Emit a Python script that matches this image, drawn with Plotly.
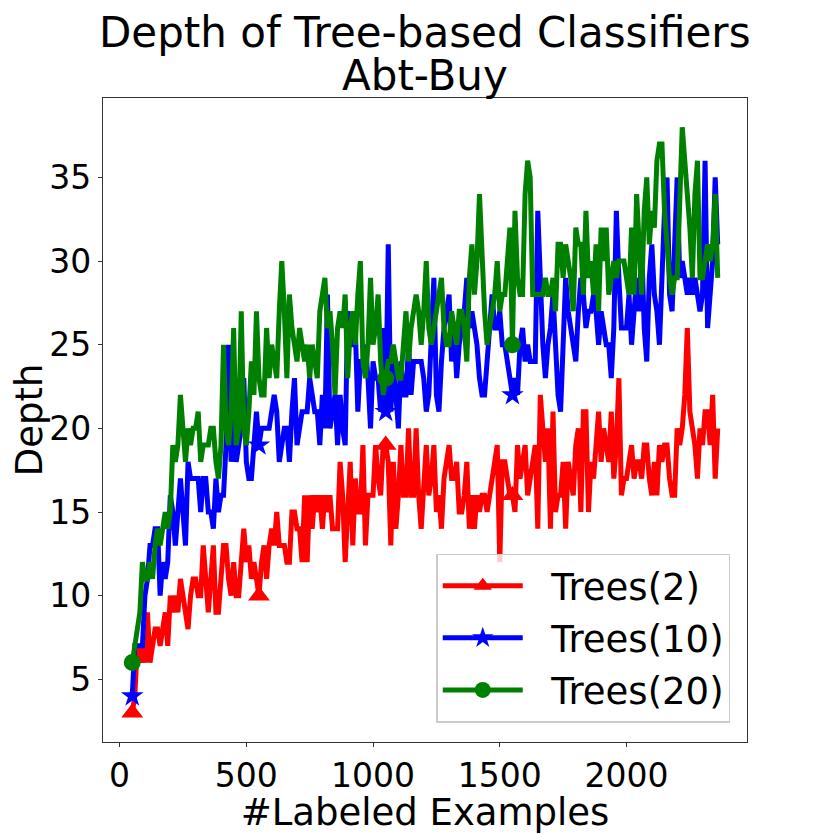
import plotly.graph_objects as go

# ---------------- data ----------------
labeled_examples = list(range(50, 2361, 10))

trees2_depth = [
    3, 4, 7, 6, 7, 6, 9, 6, 7, 8,
    8, 7, 8, 9, 7, 10, 9, 10, 9, 11,
    10, 9, 8, 10, 11, 11, 10, 10, 13, 11,
    9, 11, 13, 9, 9, 11, 13, 13, 11, 10,
    12, 10, 10, 12, 14, 12, 13, 11, 12, 11,
    10, 12, 13, 11, 13, 14, 13, 15, 13, 13,
    13, 12, 12, 15, 15, 14, 14, 12, 16, 12,
    16, 14, 16, 15, 16, 14, 16, 15, 16, 14,
    14, 14, 18, 16, 12, 15, 18, 13, 17, 15,
    15, 19, 13, 16, 16, 16, 19, 17, 16, 19,
    19, 18, 13, 18, 14, 16, 19, 16, 16, 20,
    16, 16, 20, 16, 14, 17, 19, 16, 17, 19,
    15, 16, 14, 17, 18, 19, 17, 17, 18, 15,
    15, 16, 18, 14, 16, 14, 16, 15, 16, 16,
    15, 16, 17, 18, 19, 12, 18, 18, 17, 16,
    16, 15, 19, 17, 18, 19, 16, 17, 18, 19,
    14, 22, 20, 18, 20, 14, 21, 15, 16, 16,
    18, 14, 18, 17, 16, 19, 20, 15, 21, 21,
    15, 18, 17, 19, 21, 18, 20, 19, 18, 21,
    17, 19, 23, 16, 17, 17, 18, 19, 17, 18,
    18, 17, 19, 19, 17, 16, 18, 16, 19, 18,
    19, 19, 17, 16, 16, 20, 19, 20, 22, 26,
    21, 20, 19, 17, 20, 19, 21, 21, 19, 22,
    17, 20,
]

trees10_depth = [
    4, 7, 7, 7, 7, 10, 11, 13, 13, 14,
    14, 10, 12, 11, 12, 16, 15, 13, 15, 17,
    15, 13, 18, 17, 17, 17, 17, 15, 17, 17,
    15, 15, 14, 17, 15, 16, 16, 19, 25, 18,
    21, 18, 19, 20, 23, 18, 17, 17, 19, 21,
    19, 20, 20, 20, 20, 21, 22, 21, 18, 19,
    20, 20, 18, 21, 23, 19, 20, 21, 21, 21,
    23, 22, 21, 21, 19, 22, 20, 28, 20, 21,
    22, 19, 22, 20, 19, 27, 25, 25, 26, 21,
    24, 24, 25, 23, 20, 24, 23, 23, 21, 26,
    21, 31, 21, 24, 22, 20, 24, 22, 22, 25,
    22, 24, 24, 24, 24, 23, 21, 22, 25, 29,
    22, 21, 24, 26, 27, 28, 24, 26, 23, 25,
    26, 27, 29, 26, 27, 26, 25, 23, 22, 22,
    24, 26, 28, 26, 26, 27, 25, 25, 24, 23,
    22, 23, 22, 25, 26, 24, 25, 24, 24, 24,
    33, 28, 25, 23, 25, 26, 28, 25, 22, 21,
    26, 29, 27, 26, 25, 24, 27, 29, 28, 26,
    27, 27, 28, 27, 25, 27, 26, 25, 25, 23,
    26, 33, 29, 26, 26, 26, 28, 25, 27, 29,
    27, 31, 26, 24, 29, 31, 28, 27, 25, 30,
    33, 35, 28, 27, 31, 35, 29, 30, 29, 28,
    29, 28, 29, 28, 27, 28, 36, 26, 28, 30,
    35, 31,
]

trees20_depth = [
    6, 7, 8, 9, 12, 11, 11, 12, 11, 13,
    14, 13, 14, 15, 14, 15, 19, 18, 19, 22,
    20, 18, 20, 19, 20, 20, 21, 18, 19, 19,
    19, 20, 20, 18, 17, 19, 25, 20, 19, 21,
    26, 19, 20, 27, 20, 19, 21, 24, 22, 27,
    23, 22, 22, 26, 23, 25, 24, 23, 27, 30,
    27, 23, 28, 26, 25, 24, 26, 25, 24, 25,
    23, 25, 24, 23, 27, 28, 29, 26, 27, 25,
    22, 26, 27, 26, 28, 23, 26, 27, 25, 28,
    30, 24, 23, 25, 29, 25, 26, 28, 24, 22,
    23, 24, 24, 25, 24, 23, 23, 25, 27, 24,
    26, 27, 28, 27, 25, 27, 30, 26, 25, 26,
    27, 28, 29, 26, 25, 25, 27, 26, 25, 27,
    27, 26, 24, 29, 31, 28, 30, 34, 30, 27,
    25, 26, 27, 28, 30, 27, 28, 28, 30, 32,
    25, 33, 29, 28, 28, 34, 36, 35, 28, 28,
    28, 28, 28, 29, 28, 28, 29, 27, 31, 31,
    29, 31, 30, 29, 27, 32, 31, 31, 28, 33,
    29, 30, 28, 31, 27, 32, 30, 32, 28, 29,
    30, 29, 30, 30, 30, 29, 28, 32, 28, 34,
    31, 28, 33, 35, 31, 33, 32, 36, 37, 37,
    33, 31, 29, 28, 29, 29, 33, 38, 36, 34,
    32, 29, 34, 36, 29, 29, 30, 31, 30, 31,
    34, 29,
]

trees2_marks = [50, 550, 1050, 1550]
trees10_marks = [50, 550, 1050, 1550]
trees20_marks = [50, 1050, 1550]

series_names = ["Trees(2)", "Trees(10)", "Trees(20)"]
x_tick_values = [0, 500, 1000, 1500, 2000]
y_tick_values = [5, 10, 15, 20, 25, 30, 35]

title_line1 = "Depth of Tree-based Classifiers"
title_line2 = "Abt-Buy"
x_title = "#Labeled Examples"
y_title = "Depth"

# ---------------- figure ----------------
FONT = "DejaVu Sans"
OFF = 8  # page body margin compensation
styles = [
    dict(color="#ff0000", symbol="triangle-up", size=19),
    dict(color="#0000ff", symbol="star", size=17),
    dict(color="#008000", symbol="circle", size=17),
]
all_series = [trees2_depth, trees10_depth, trees20_depth]
all_marks = [trees2_marks, trees10_marks, trees20_marks]

fig = go.Figure()
for name, ys, marks, st in zip(series_names, all_series, all_marks, styles):
    assert len(ys) == len(labeled_examples), (name, len(ys))
    sel = [i for i, x in enumerate(labeled_examples) if x in marks]
    fig.add_trace(go.Scatter(
        x=labeled_examples, y=ys, name="\u00a0\u00a0" + name, mode="lines+markers",
        legendgroup=name,
        line=dict(color=st["color"], width=5),
        marker=dict(color=st["color"], symbol=st["symbol"], size=st["size"],
                    opacity=1, line=dict(width=0)),
        selectedpoints=sel,
        selected=dict(marker=dict(opacity=1)),
        unselected=dict(marker=dict(opacity=0)),
    ))

xmin, xmax = min(labeled_examples), max(labeled_examples)
allv = trees2_depth + trees10_depth + trees20_depth
ymin, ymax = min(allv), max(allv)
xpad = 0.05 * (xmax - xmin)
ypad = 0.05 * (ymax - ymin)

axis_common = dict(
    showgrid=False, zeroline=False, showline=True, linecolor="#333333",
    linewidth=1.3, mirror=True, ticks="outside", ticklen=4, tickwidth=1.3,
    tickcolor="#333333", tickfont=dict(family=FONT, size=33, color="black"),
    automargin=False,
)

fig.update_layout(
    width=830 - OFF, height=834 - OFF,
    margin=dict(l=103 - OFF, r=83, t=98 - OFF, b=92),
    paper_bgcolor="white", plot_bgcolor="white",
    font=dict(family=FONT, color="black"),
    showlegend=True,
    legend=dict(
        x=0.974, y=0.03, xanchor="right", yanchor="bottom",
        bordercolor="#cccccc", borderwidth=1.5, bgcolor="rgba(255,255,255,0.8)",
        font=dict(family=FONT, size=37, color="black"),
        itemsizing="trace", itemwidth=80, tracegroupgap=1,
        traceorder="grouped",
    ),
    xaxis=dict(range=[xmin - xpad, xmax + xpad], tickvals=x_tick_values,
               title=dict(text=x_title, font=dict(family=FONT, size=37), standoff=0),
               **axis_common),
    yaxis=dict(range=[ymin - ypad, ymax + ypad], tickvals=y_tick_values,
               title=dict(text=y_title, font=dict(family=FONT, size=37), standoff=8),
               **axis_common),
    annotations=[
        dict(text=title_line1, xref="paper", yref="paper", x=0.5, y=1.102,
             xanchor="center", yanchor="middle", showarrow=False,
             font=dict(family=FONT, size=42, color="black")),
        dict(text=title_line2, xref="paper", yref="paper", x=0.5, y=1.035,
             xanchor="center", yanchor="middle", showarrow=False,
             font=dict(family=FONT, size=42, color="black")),
    ],
)

fig.write_html("out.html")
